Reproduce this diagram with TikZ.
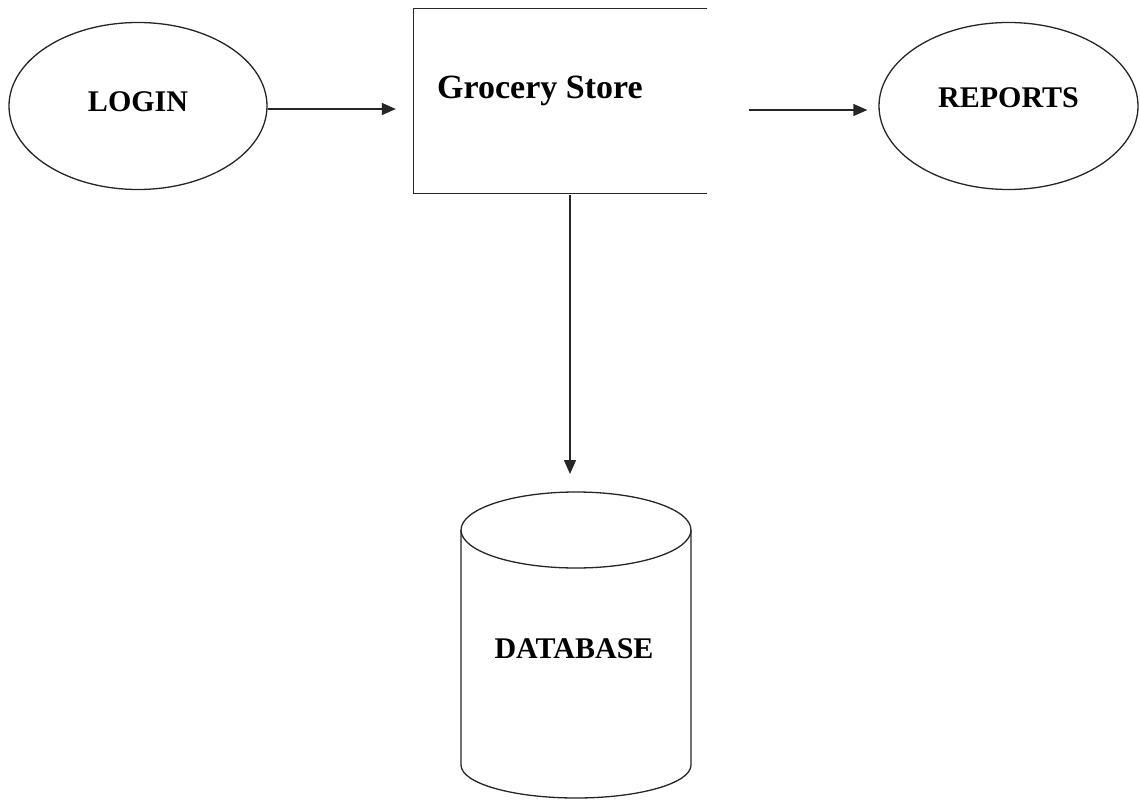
\documentclass[tikz,border=0pt]{standalone}
\usepackage{fontspec}
\setmainfont{Liberation Serif}
\usetikzlibrary{shapes.geometric,arrows.meta}
\begin{document}
\begin{tikzpicture}[x=1pt,y=-1pt,
  line/.style={draw=black!85,line width=1.3pt},
  arr/.style={line,-{Triangle[length=14pt,width=12pt]}},
  oval/.style={ellipse,line,inner sep=0pt,font=\bfseries\fontsize{30}{36}\selectfont},
  lbl/.style={inner sep=0pt,font=\bfseries\fontsize{30}{36}\selectfont}]
\useasboundingbox[fill=white] (0,0) rectangle (1140,800);
% LOGIN
\node[oval,minimum width=258pt,minimum height=167pt,text depth=8pt] (login) at (138,106) {LOGIN};
% Grocery Store box (open on the right)
\node[minimum width=293pt,minimum height=184pt,inner sep=0pt] (gs) at (560.5,101) {};
\draw[line] (gs.north east) -- (gs.north west) -- (gs.south west) -- (gs.south east);
\node[lbl,font=\bfseries\fontsize{34}{40}\selectfont,anchor=base west] (gstext) at (437,98) {Grocery Store};
% REPORTS
\node[oval,minimum width=259pt,minimum height=167pt,text depth=16pt] (rep) at (1008.5,106) {REPORTS};
% DATABASE cylinder
\coordinate (dbtop) at (576,530);
\draw[line] (461,530) -- (461,765) arc[start angle=180,end angle=360,x radius=115,y radius=-33] -- (691,530);
\draw[line] (dbtop) ellipse[x radius=115,y radius=38];
\node[lbl] (db) at (574,649) {DATABASE};
\coordinate (dbin) at (570,474);
% connectors
\draw[arr,shorten >=18pt] ([yshift=-3pt]login.east) -- ([yshift=-3pt]login.east -| gs.west);
\draw[arr,shorten <=42pt,shorten >=11pt] ([yshift=-4pt]rep.west -| gs.east) -- ([yshift=-4pt]rep.west);
\draw[arr,shorten <=2pt] (gs.south -| dbin) -- (dbin);
\end{tikzpicture}
\end{document}
